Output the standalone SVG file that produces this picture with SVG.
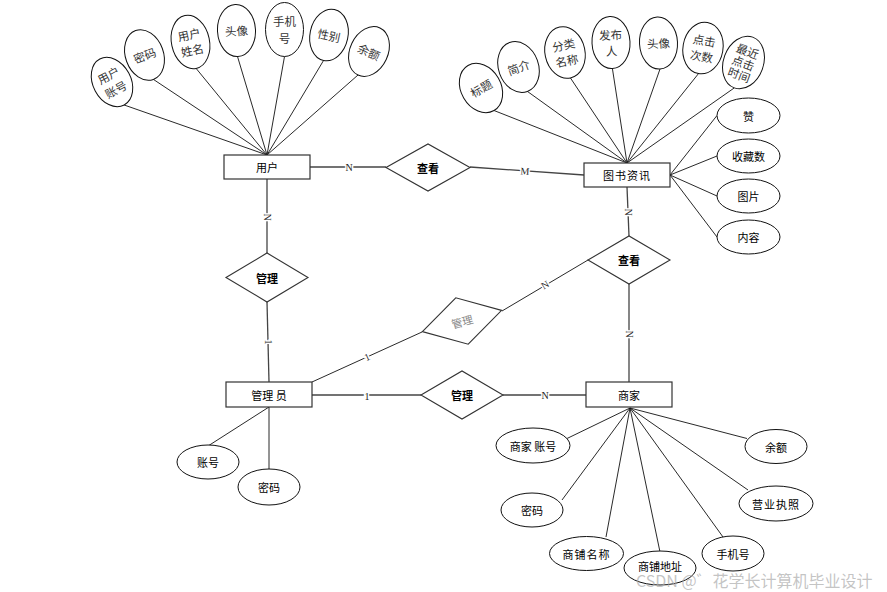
<svg xmlns="http://www.w3.org/2000/svg" width="887" height="592" viewBox="0 0 887 592">
<style>
  .ent{fill:#fff;stroke:#333;stroke-width:1.2}
  .rel{fill:#fff;stroke:#333;stroke-width:1.1}
  .att{fill:#fff;stroke:#111;stroke-width:1}
  .t{font-family:"Noto Sans CJK SC","Noto Sans",sans-serif;font-size:11px;fill:#000;text-anchor:middle;dominant-baseline:central}
  .ta{font-family:"Noto Sans CJK SC","Noto Sans",sans-serif;font-size:11.5px;fill:#333;text-anchor:middle;dominant-baseline:central}
  .tb{font-weight:bold}
  .lk{stroke:#444;stroke-width:1.3;fill:none}
  .al{stroke:#111;stroke-width:0.9;fill:none}
  .lb{font-family:"Liberation Serif",serif;font-size:10px;fill:#222;text-anchor:middle;dominant-baseline:central;paint-order:stroke;stroke:#fff;stroke-width:3}
</style>
<rect width="887" height="592" fill="#fff"/>

<g id="connectors">
  <line class="lk" x1="310" y1="167" x2="386" y2="167"/>
  <line class="lk" x1="470" y1="167" x2="584" y2="175"/>
  <line class="lk" x1="267" y1="179" x2="267" y2="253"/>
  <line class="lk" x1="267" y1="302" x2="269" y2="382"/>
  <line class="lk" x1="312" y1="395" x2="421" y2="395"/>
  <line class="lk" x1="503" y1="395" x2="586" y2="395"/>
  <line class="lk" x1="627" y1="187" x2="629" y2="236"/>
  <line class="lk" x1="629" y1="284" x2="629" y2="382"/>
  <line class="al" x1="312" y1="382" x2="422" y2="332"/>
  <line class="al" x1="502" y1="311" x2="588" y2="260"/>
  <!-- user attributes -->
  <line class="al" x1="124.2" y1="105" x2="267" y2="155"/>
  <line class="al" x1="153.4" y1="79.4" x2="267" y2="155"/>
  <line class="al" x1="196.1" y1="68.4" x2="267" y2="155"/>
  <line class="al" x1="237.5" y1="56.5" x2="267" y2="155"/>
  <line class="al" x1="284.5" y1="56.5" x2="267" y2="155"/>
  <line class="al" x1="323.6" y1="60.4" x2="267" y2="155"/>
  <line class="al" x1="358" y1="75" x2="267" y2="155"/>
  <!-- book attributes -->
  <line class="al" x1="494" y1="110.5" x2="627" y2="163"/>
  <line class="al" x1="527.4" y1="91.4" x2="627" y2="163"/>
  <line class="al" x1="570.4" y1="77.9" x2="627" y2="163"/>
  <line class="al" x1="612.4" y1="68.5" x2="627" y2="163"/>
  <line class="al" x1="660" y1="69" x2="627" y2="163"/>
  <line class="al" x1="698.5" y1="73.6" x2="627" y2="163"/>
  <line class="al" x1="734.3" y1="87.9" x2="627" y2="163"/>
  <line class="al" x1="670" y1="175" x2="717" y2="115.5"/>
  <line class="al" x1="670" y1="175" x2="717" y2="156"/>
  <line class="al" x1="670" y1="175" x2="717" y2="196"/>
  <line class="al" x1="670" y1="175" x2="717" y2="237"/>
  <!-- admin attributes -->
  <line class="al" x1="269" y1="407" x2="208" y2="446"/>
  <line class="al" x1="269" y1="407" x2="269" y2="470"/>
  <!-- merchant attributes -->
  <line class="al" x1="630" y1="408" x2="567" y2="438.5"/>
  <line class="al" x1="630" y1="408" x2="747" y2="438.5"/>
  <line class="al" x1="630" y1="408" x2="562" y2="500"/>
  <line class="al" x1="630" y1="408" x2="748" y2="490"/>
  <line class="al" x1="630" y1="408" x2="606" y2="537"/>
  <line class="al" x1="630" y1="408" x2="660" y2="552"/>
  <line class="al" x1="630" y1="408" x2="723" y2="537"/>
  <!-- cardinality labels -->
  <text class="lb" x="349" y="167">N</text>
  <text class="lb" x="525" y="171" transform="rotate(4 525 171)">M</text>
  <text class="lb" x="267" y="217" transform="rotate(90 267 217)">N</text>
  <text class="lb" x="268" y="342" transform="rotate(90 268 342)">1</text>
  <text class="lb" x="367" y="396">1</text>
  <text class="lb" x="545" y="395">N</text>
  <text class="lb" x="628" y="212" transform="rotate(90 628 212)">N</text>
  <text class="lb" x="629" y="334" transform="rotate(90 629 334)">N</text>
  <text class="lb" x="367" y="357" transform="rotate(-24 367 357)">1</text>
  <text class="lb" x="545" y="285" transform="rotate(-31 545 285)">N</text>
</g>

<!-- entities -->
<g id="user"><rect class="ent" x="224" y="155" width="86" height="24"/><text class="t" x="267" y="167">用户</text></g>
<g id="book"><rect class="ent" x="584" y="163" width="86" height="24"/><text class="t" x="627" y="175" letter-spacing="1">图书资讯</text></g>
<g id="admin"><rect class="ent" x="226" y="382" width="86" height="25"/><text class="t" x="269" y="394.5">管理 员</text></g>
<g id="merchant"><rect class="ent" x="586" y="382" width="86" height="25"/><text class="t" x="629" y="394.5">商家</text></g>

<!-- relationships -->
<g id="rel-view1"><polygon class="rel" points="386,167.5 428,144 470,167.5 428,191"/><text class="t tb" x="428" y="167.5">查看</text></g>
<g id="rel-manage-user"><polygon class="rel" points="226,277.5 267,253 308,277.5 267,302"/><text class="t tb" x="267" y="277.5">管理</text></g>
<g id="rel-manage-merchant"><polygon class="rel" points="421,395 462,371 503,395 462,419"/><text class="t tb" x="462" y="395">管理</text></g>
<g id="rel-view2"><polygon class="rel" points="588,260 629,236 670,260 629,284"/><text class="t tb" x="629" y="260">查看</text></g>
<g id="rel-manage-view" transform="translate(462 321) rotate(-15)"><polygon class="rel" points="-41,0 0,-24 41,0 0,24"/><text class="t" x="0" y="0" style="fill:#888">管理</text></g>

<!-- user attributes -->
<g id="u-account" transform="translate(112 82) rotate(-28)"><ellipse class="att" rx="19" ry="26"/><text class="ta" y="-8">用户</text><text class="ta" y="8">账号</text></g>
<g id="u-pwd" transform="translate(144.5 55) rotate(-20)"><ellipse class="att" rx="19" ry="26"/><text class="ta">密码</text></g>
<g id="u-name" transform="translate(190.5 42) rotate(-12)"><ellipse class="att" rx="19" ry="27"/><text class="ta" y="-8">用户</text><text class="ta" y="8">姓名</text></g>
<g id="u-avatar" transform="translate(236.5 30.5) rotate(-3)"><ellipse class="att" rx="19" ry="26"/><text class="ta">头像</text></g>
<g id="u-phone" transform="translate(284.5 29.5) rotate(0)"><ellipse class="att" rx="19" ry="27"/><text class="ta" y="-8.5">手机</text><text class="ta" y="8.5">号</text></g>
<g id="u-gender" transform="translate(329 35) rotate(12)"><ellipse class="att" rx="19" ry="26"/><text class="ta">性别</text></g>
<g id="u-balance" transform="translate(369 51.5) rotate(25)"><ellipse class="att" rx="19" ry="26"/><text class="ta">余额</text></g>

<!-- book attributes -->
<g id="b-title" transform="translate(481 88) rotate(-30)"><ellipse class="att" rx="20" ry="26"/><text class="ta">标题</text></g>
<g id="b-intro" transform="translate(518.5 67) rotate(-20)"><ellipse class="att" rx="20" ry="26"/><text class="ta">简介</text></g>
<g id="b-cat" transform="translate(565 52.5) rotate(-12)"><ellipse class="att" rx="20" ry="26"/><text class="ta" y="-8">分类</text><text class="ta" y="8">名称</text></g>
<g id="b-pub" transform="translate(611 42.5) rotate(-3)"><ellipse class="att" rx="19" ry="26"/><text class="ta" y="-8">发布</text><text class="ta" y="8">人</text></g>
<g id="b-avatar" transform="translate(658.5 43) rotate(-3)"><ellipse class="att" rx="19" ry="26"/><text class="ta">头像</text></g>
<g id="b-clicks" transform="translate(703 48) rotate(10)"><ellipse class="att" rx="20" ry="26"/><text class="ta" y="-8">点击</text><text class="ta" y="8">次数</text></g>
<g id="b-recent" transform="translate(743.5 62.5) rotate(20)"><ellipse class="att" rx="20" ry="27"/><text class="ta" y="-12.5">最近</text><text class="ta" y="0">点击</text><text class="ta" y="12.5">时间</text></g>
<g id="b-like"><ellipse class="att" cx="748.5" cy="115.5" rx="31.5" ry="17.5"/><text class="t" x="748.5" y="115.5">赞</text></g>
<g id="b-fav"><ellipse class="att" cx="748.5" cy="156" rx="31.5" ry="17"/><text class="t" x="748.5" y="156">收藏数</text></g>
<g id="b-img"><ellipse class="att" cx="748.5" cy="196" rx="31.5" ry="17"/><text class="t" x="748.5" y="196">图片</text></g>
<g id="b-content"><ellipse class="att" cx="748.5" cy="237" rx="31.5" ry="17"/><text class="t" x="748.5" y="237">内容</text></g>

<!-- admin attributes -->
<g id="a-account"><ellipse class="att" cx="208" cy="462" rx="31" ry="17"/><text class="t" x="208" y="462">账号</text></g>
<g id="a-pwd"><ellipse class="att" cx="269" cy="487" rx="31" ry="18"/><text class="t" x="269" y="487">密码</text></g>

<!-- merchant attributes -->
<g id="m-account"><ellipse class="att" cx="533" cy="445.5" rx="37" ry="17.5"/><text class="t" x="533" y="445.5">商家 账号</text></g>
<g id="m-balance"><ellipse class="att" cx="776" cy="446.5" rx="31" ry="17"/><text class="t" x="776" y="446.5">余额</text></g>
<g id="m-pwd"><ellipse class="att" cx="532" cy="510" rx="31" ry="17"/><text class="t" x="532" y="510">密码</text></g>
<g id="m-license"><ellipse class="att" cx="776" cy="503.5" rx="37" ry="17.5"/><text class="t" x="776" y="503.5" letter-spacing="1">营业执照</text></g>
<g id="m-shopname"><ellipse class="att" cx="586.5" cy="553.5" rx="37" ry="17"/><text class="t" x="586.5" y="553.5" letter-spacing="1">商铺名称</text></g>
<g id="m-shopaddr"><ellipse class="att" cx="660" cy="568" rx="36" ry="17"/><text class="t" x="660" y="566">商铺地址</text></g>
<g id="m-phone"><ellipse class="att" cx="733" cy="553.5" rx="31" ry="17.5"/><text class="t" x="733" y="553.5">手机号</text></g>

<text x="636" y="587" font-family="'Noto Sans CJK SC','Noto Sans',sans-serif" font-size="16" fill="#aaa" fill-opacity="0.7">CSDN @゛花学长计算机毕业设计</text>
</svg>
